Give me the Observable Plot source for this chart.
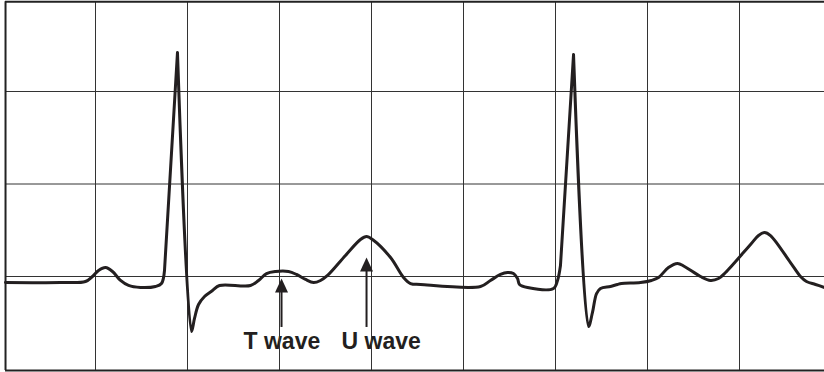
<!DOCTYPE html>
<html>
<head>
<meta charset="utf-8">
<script src="https://cdn.jsdelivr.net/npm/d3@7"></script>
<script src="https://cdn.jsdelivr.net/npm/@observablehq/plot@0.6"></script>
<style>
  html, body { margin: 0; padding: 0; background: #ffffff; }
  #chart svg { display: block; }
</style>
</head>
<body>
<div id="chart"></div>
<script>
// ECG trace, x in large grid squares, y in large grid squares (baseline grid line = 0)
// sharp corners (R tips, QRS onset) are listed twice so the smooth curve keeps them pointed
const traceX = [0.022, 0.620, 0.891, 0.967, 1.033, 1.109, 1.185, 1.272, 1.359, 1.489, 1.652, 1.717, 1.750, 1.750,
  1.891, 1.891, 2.043, 2.076, 2.120, 2.185, 2.272, 2.348, 2.685, 2.772, 2.859, 2.957, 3.098, 3.185, 3.283, 3.370,
  3.446, 3.522, 3.717, 3.880, 3.946, 4.011, 4.207, 4.348, 4.424, 4.533, 5.185, 5.293, 5.402, 5.478, 5.543,
  5.587, 5.609, 5.696, 5.978, 6.022, 6.054, 6.054, 6.196, 6.196, 6.359, 6.402, 6.446, 6.489, 6.598, 6.674, 6.717, 6.924,
  7.043, 7.120, 7.228, 7.326, 7.402, 7.576, 7.685, 7.772, 7.848, 8.120, 8.207, 8.272, 8.337, 8.554, 8.663,
  8.728, 8.826, 8.924];
const traceY = [-0.065, -0.065, -0.054, 0.000, 0.065, 0.097, 0.054, -0.043, -0.097, -0.119, -0.108, -0.076, 0.065, 0.065,
  2.422, 2.422, -0.595, -0.454, -0.303, -0.216, -0.151, -0.097, -0.097, -0.043, 0.032, 0.054, 0.054, 0.022, -0.032, -0.065,
  -0.043, 0.011, 0.227, 0.400, 0.432, 0.400, 0.205, -0.011, -0.076, -0.086, -0.108, -0.043, 0.022, 0.043, 0.032,
  -0.022, -0.086, -0.119, -0.130, -0.043, 0.119, 0.119, 2.400, 2.400, -0.541, -0.389, -0.184, -0.130, -0.108, -0.086, -0.076, -0.065,
  -0.043, -0.011, 0.097, 0.141, 0.108, 0.000, -0.043, -0.022, 0.043, 0.346, 0.443, 0.476, 0.443, 0.151, 0.000,
  -0.054, -0.086, -0.119];

// grid and frame
const gridX = [1, 2, 3, 4, 5, 6, 7, 8];
const gridY = [0, 1, 2];
const frameLeft = 0.022, frameRight = 9, frameTop = 2.97, frameBottom = -1.016;

// annotations
const arrowLabels = ["T wave", "U wave"];
const arrowX = [3.022, 3.946];
const arrowTip = [-0.022, 0.205];
const arrowTail = [-0.551, -0.551];
const labelX = [2.609, 3.674];
const labelY = [-0.709, -0.709];

const trace = traceX.map((x, i) => ({x, y: traceY[i]}));
const arrows = arrowLabels.map((label, i) => ({
  label, x: arrowX[i], tip: arrowTip[i], tail: arrowTail[i], lx: labelX[i], ly: labelY[i]
}));

const ink = "#231f20";
const headH = 14, headW = 13;
const headSymbol = {
  draw(context) {
    context.moveTo(0, 0);
    context.lineTo(headW / 2, headH);
    context.lineTo(-headW / 2, headH);
    context.closePath();
  }
};

const pxPerUnitY = 92.5;
const chart = Plot.plot({
  width: 824,
  height: 372,
  margin: 0,
  style: {fontFamily: "'Liberation Sans', Arial, Helvetica, sans-serif", background: "#ffffff"},
  x: {domain: [0, 9], range: [3, 831], axis: null},
  y: {domain: [-1, 3], range: [276 + pxPerUnitY, 276 - 3 * pxPerUnitY], axis: null},
  marks: [
    Plot.text(arrows, {x: "lx", y: "ly", text: "label", textAnchor: "start", fontSize: 23,
      fontWeight: "bold", fill: ink}),
    Plot.ruleX(gridX, {x: d => d, y1: frameBottom, y2: frameTop, stroke: "#333", strokeWidth: 1}),
    Plot.ruleY(gridY, {y: d => d, x1: frameLeft, x2: frameRight, stroke: "#333", strokeWidth: 1}),
    Plot.ruleY([frameTop, frameBottom], {y: d => d, x1: frameLeft, x2: frameRight, stroke: "#222", strokeWidth: 2}),
    Plot.ruleX([frameLeft], {x: d => d, y1: frameBottom, y2: frameTop, stroke: "#222", strokeWidth: 2}),
    Plot.line(trace, {x: "x", y: "y", curve: "catmull-rom", stroke: ink, strokeWidth: 3,
      strokeLinejoin: "round", strokeLinecap: "round"}),
    Plot.ruleX(arrows, {x: "x", y1: "tail", y2: d => d.tip - headH / pxPerUnitY + 0.01, stroke: ink, strokeWidth: 2}),
    Plot.dot(arrows, {x: "x", y: "tip", symbol: headSymbol, fill: ink, stroke: "none", r: 5})
  ]
});
document.getElementById("chart").appendChild(chart);
</script>
</body>
</html>
